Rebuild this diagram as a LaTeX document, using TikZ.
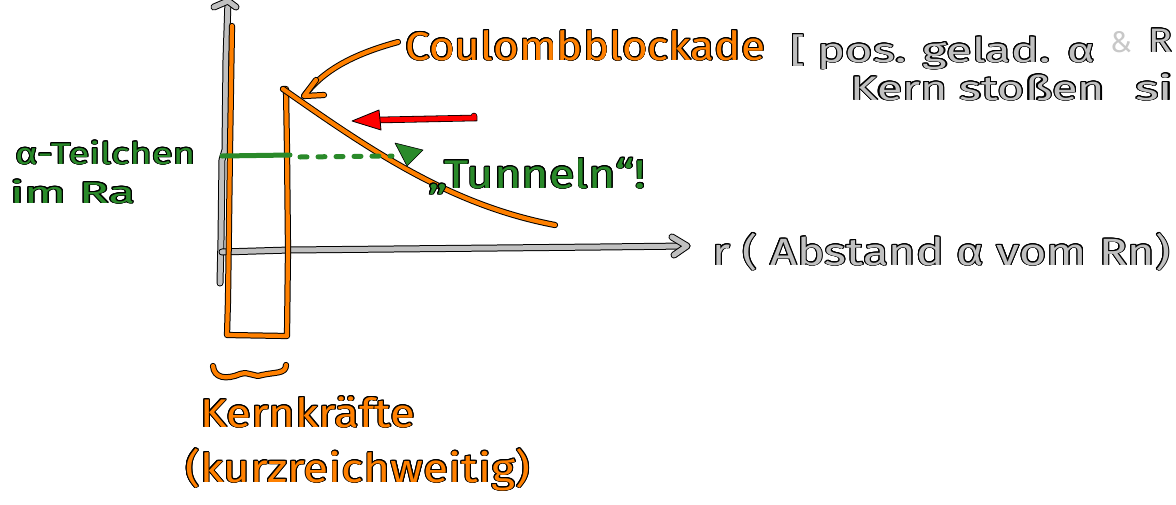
\documentclass[tikz,border=0pt]{standalone}
\usepackage{fontspec}
\setmainfont{Fira Sans}
\usepackage{contour}
\contourlength{0.8pt}
\usetikzlibrary{arrows.meta}
\definecolor{orng}{HTML}{FF8000}
\definecolor{gry}{HTML}{C0C0C0}
\definecolor{lgry}{HTML}{C8C8C8}
\definecolor{grn}{HTML}{2A8A2A}
\definecolor{rd}{HTML}{FF0000}
\newcommand{\hw}[3]{\resizebox{#1}{\height}{\fontsize{#2}{#2}\selectfont\contour{black}{#3}}}
\tikzset{
  ostroke/.style={draw=black, line width=1pt, double=orng, double distance=4.2pt, line cap=round, line join=round},
  gstroke/.style={draw=black, line width=1pt, double=gry, double distance=5pt, line cap=round, line join=round},
  gnline/.style={draw=grn, line width=5pt, line cap=round},
  txt/.style={inner sep=0pt, anchor=base west},
}
\begin{document}
\begin{tikzpicture}[x=1pt,y=-1pt]
\useasboundingbox (0,0) rectangle (1176,504);
\clip (0,0) rectangle (1176,504);
% coordinates
\coordinate (yb) at (220,283);
\coordinate (yt) at (228,1);
\coordinate (xo) at (222,252);
\coordinate (xe) at (687,246);
\coordinate (peak) at (283,89);
\coordinate (cend) at (555,225);
% axes
\draw[gstroke] (yb) -- (221,240) -- (222,160) -- (225,150) -- (226,60) -- (yt);
\draw[gstroke] (214,7) -- (yt) -- (236,7);
\draw[gstroke] (xo) -- (290,250) -- (600,247) -- (xe);
\draw[gstroke] (672,237) -- (xe) -- (674,255);
% orange potential
\draw[ostroke] (232,26) -- (230,150) -- (228,300) -- (227,335) -- (287,336) -- (288,250) -- (287,150) -- (286,89) -- (peak);
\draw[ostroke] (peak) .. controls (370,150) and (450,205) .. (cend);
% orange arrow to peak
\coordinate (ca) at (398,42);
\coordinate (ct) at (304,96);
\draw[ostroke] (ca) .. controls (350,55) and (322,72) .. (ct);
\draw[ostroke] (316,80) -- (ct) -- (324,95);
% red arrow
\coordinate (ra) at (474,116);
\coordinate (rb) at (378,120);
\draw[draw=black, line width=0.8pt, double=rd, double distance=5pt, line cap=round] (ra) -- (474,118) -- (rb);
\draw[draw=black, line width=0.8pt, fill=rd, line join=round] (352,121) -- (379,110) -- (381,130) -- cycle;
% green line
\coordinate (g0) at (222,156);
\coordinate (g1) at (290,155);
\draw[gnline] (g0) -- (g1);
\draw[gnline, dash pattern=on 7pt off 11pt] (300,157) -- (392,156);
\draw[draw=black, line width=0.6pt, fill=grn, line join=round] (395,143) -- (423,150) -- (407,166) -- cycle;
% brace
\draw[ostroke] (213,366) .. controls (214,378) and (226,380) .. (240,374) .. controls (250,371) and (254,378) .. (262,375) .. controls (275,372) and (286,374) .. (286,365);
% texts
\node[txt, text=orng] (coul) at (405,60) {\hw{360pt}{40}{Coulombblockade}};
\node[txt, text=gry] (pos) at (790,62) {\hw{305pt}{34}{[ pos. gelad. α}};
\node[txt, text=lgry] (amp) at (1110,52) {\fontsize{30}{30}\selectfont\&};
\node[txt, text=gry] (rn) at (1148,52) {\hw{24pt}{34}{R}};
\node[txt, text=gry] (kern) at (850,100) {\hw{255pt}{34}{Kern stoßen}};
\node[txt, text=gry] (sich) at (1135,100) {\hw{38pt}{34}{si}};
\node[txt, text=grn] (alpha) at (15,164) {\hw{180pt}{30}{α-Teilchen}};
\node[txt, text=grn] (imra) at (10,203) {\hw{125pt}{30}{im Ra}};
\node[txt, text=grn] (tun) at (428,188) {\hw{218pt}{40}{„Tunneln“!}};
\node[txt, text=gry] (rlab) at (712,265) {\hw{458pt}{38}{r ( Abstand α vom Rn)}};
\node[txt, text=orng] (kk) at (200,427) {\hw{215pt}{40}{Kernkräfte}};
\node[txt, text=orng] (kurz) at (185,482) {\hw{345pt}{40}{(kurzreichweitig)}};
\end{tikzpicture}
\end{document}
